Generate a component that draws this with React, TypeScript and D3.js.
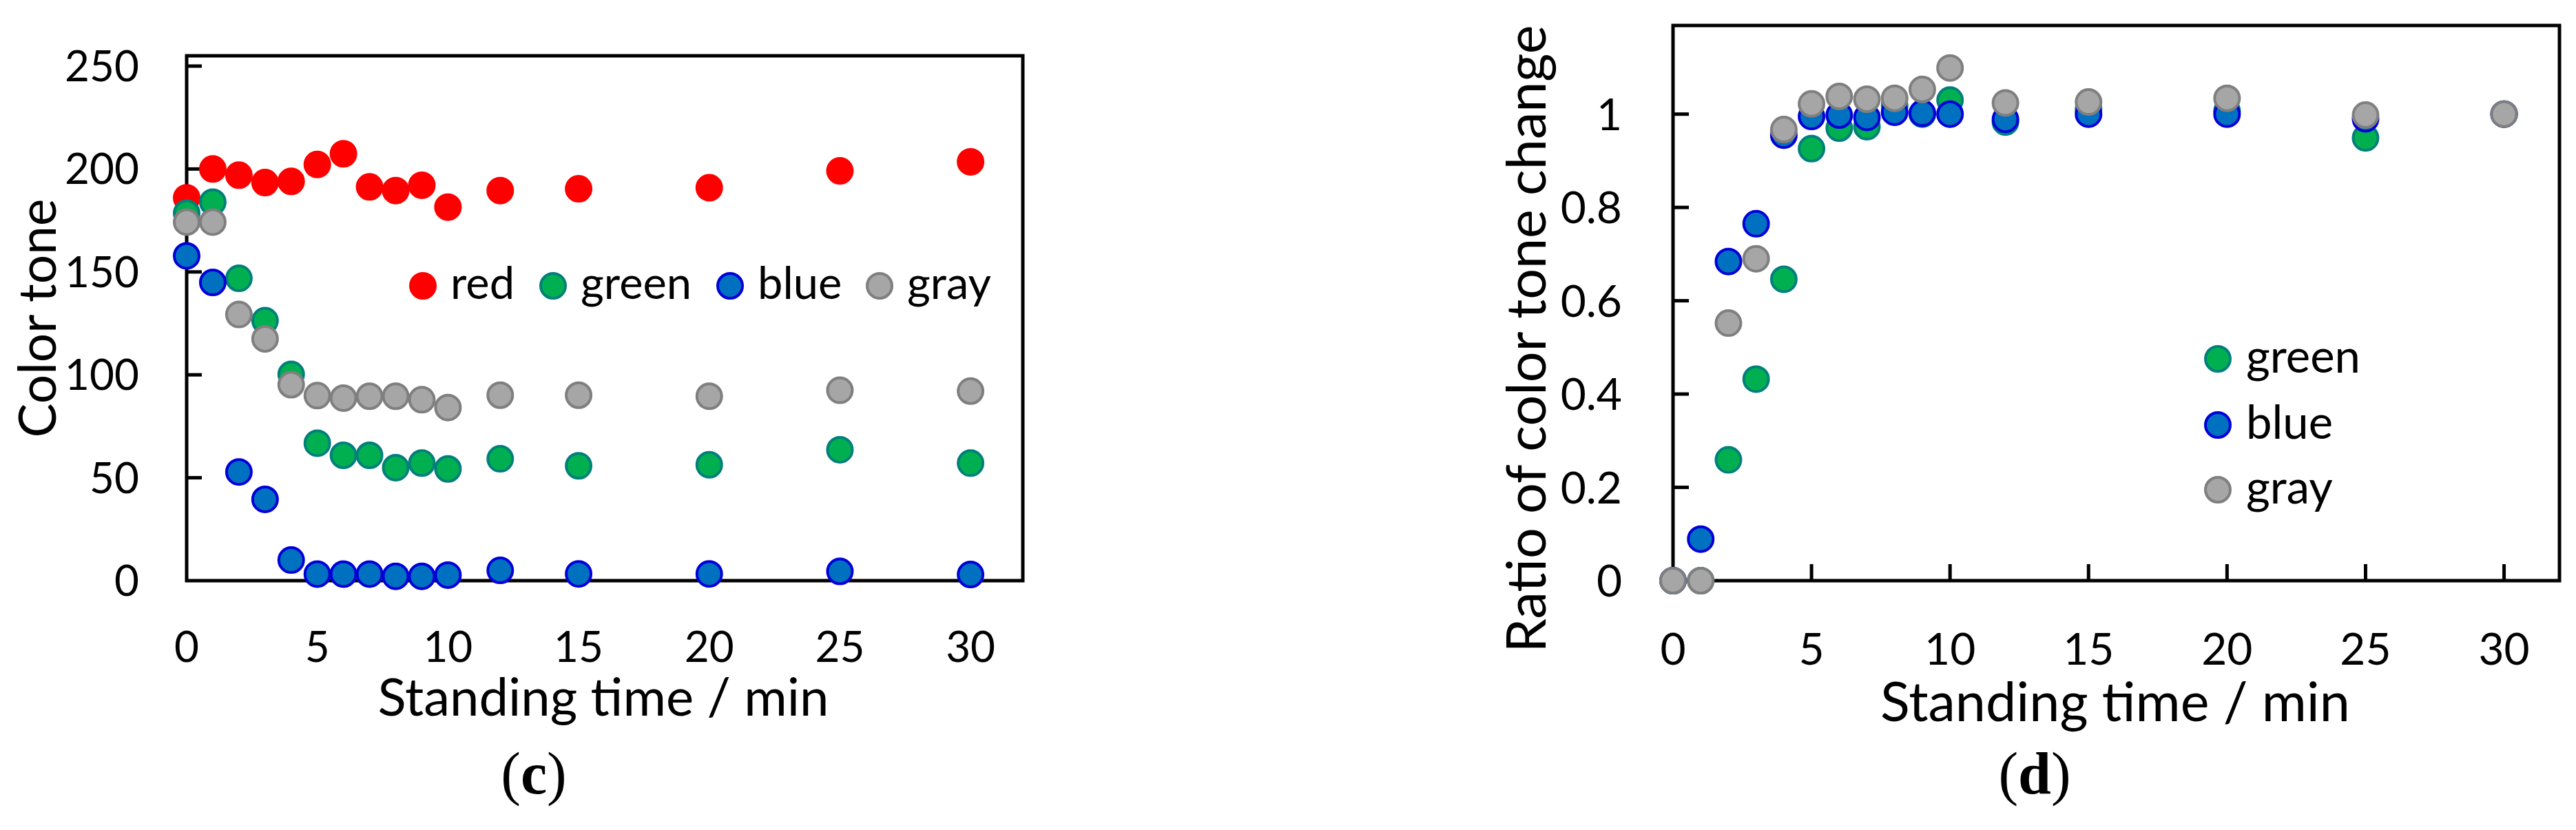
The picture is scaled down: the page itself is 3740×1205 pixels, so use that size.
import React from 'react';
import * as d3 from 'd3';

// ---------- data ----------
const times = [0, 1, 2, 3, 4, 5, 6, 7, 8, 9, 10, 12, 15, 20, 25, 30];

// panel (c): colour tone
const redTone = [186, 200, 197, 193.4, 194, 202.2, 207.4, 191.3, 189.5, 192.1, 181.5, 189.5, 190.4, 190.9, 199.1, 203.5];
const greenTone = [178.5, 183.9, 146.9, 126.3, 100.2, 66.8, 60.9, 60.9, 54.9, 57.1, 54.3, 59.2, 55.8, 56.3, 63.6, 57.1];
const blueTone = [157.8, 144.9, 52.8, 39.5, 10, 3.2, 3.2, 3.2, 2.1, 2.1, 2.7, 5, 3.3, 3.3, 4.5, 3];
const grayTone = [174.2, 174.2, 129.3, 117.5, 95.2, 89.9, 88.7, 89.6, 89.6, 87.9, 84.1, 90.1, 90.1, 89.6, 92.5, 92.1];

// panel (d): ratio of colour tone change
const greenRatio = [0, 0, 0.259, 0.432, 0.646, 0.926, 0.97, 0.973, 1.018, 1.0, 1.03, 0.983, 1.011, 1.007, 0.949, 1.0];
const blueRatio = [0, 0.089, 0.684, 0.765, 0.955, 0.995, 0.998, 0.993, 1.004, 1.002, 1.0, 0.989, 1.0, 1.0, 0.99, 1.0];
const grayRatio = [0, 0, 0.552, 0.69, 0.967, 1.022, 1.038, 1.032, 1.034, 1.053, 1.099, 1.024, 1.026, 1.034, 0.998, 1.0];

const xTicks = [0, 5, 10, 15, 20, 25, 30];
const yTicksC = [0, 50, 100, 150, 200, 250];
const yTicksD = [0, 0.2, 0.4, 0.6, 0.8, 1];

const seriesC = [
  { name: 'red', values: redTone },
  { name: 'green', values: greenTone },
  { name: 'blue', values: blueTone },
  { name: 'gray', values: grayTone },
];
const seriesD = [
  { name: 'green', values: greenRatio },
  { name: 'blue', values: blueRatio },
  { name: 'gray', values: grayRatio },
];

// ---------- styles / layout ----------
const W = 3740;
const H = 1205;
const FONT = "Lato, 'Open Sans', sans-serif";
const SERIF = "'Liberation Serif', 'DejaVu Serif', serif";

const STYLE: Record<string, { fill: string; stroke: string }> = {
  red: { fill: '#FF0000', stroke: '#FF0000' },
  green: { fill: '#00B050', stroke: '#00807A' },
  blue: { fill: '#0070C0', stroke: '#0000D8' },
  gray: { fill: '#A6A6A6', stroke: '#7F7F7F' },
};
const R = 18;
const SW = 4;

const xC = d3.scaleLinear().domain([0, 32]).range([271, 1485]);
const yC = d3.scaleLinear().domain([0, 255]).range([843, 81]);
const xD = d3.scaleLinear().domain([0, 32]).range([2429, 3716]);
const yD = d3.scaleLinear().domain([0, 1.19]).range([843, 37]);

const legendC = { y: 415, xs: [614, 803, 1060, 1277] };
const legendD = { x: 3220, ys: [521, 617, 711] };

function Marker({ cx, cy, name }: { cx: number; cy: number; name: string }) {
  const s = STYLE[name];
  return <circle cx={cx} cy={cy} r={R} fill={s.fill} stroke={s.stroke} strokeWidth={SW} />;
}

export default function App() {
  const tickLen = 22;
  return (
    <svg
      width={W}
      height={H}
      viewBox={`0 0 ${W} ${H}`}
      style={{ position: 'absolute', left: 0, top: 0, background: '#fff' }}
      fontFamily={FONT}
    >
      <rect x={0} y={0} width={W} height={H} fill="#fff" />

      {/* ===== panel (c) ===== */}
      <g>
        <rect
          x={xC(0)}
          y={yC(255)}
          width={xC(32) - xC(0)}
          height={yC(0) - yC(255)}
          fill="none"
          stroke="#000"
          strokeWidth={5}
        />
        {yTicksC.filter((t) => t > 0).map((t) => (
          <line key={t} x1={xC(0)} x2={xC(0) + tickLen} y1={yC(t)} y2={yC(t)} stroke="#000" strokeWidth={5} />
        ))}
        {yTicksC.map((t) => (
          <text key={t} x={202} y={yC(t) + 22} textAnchor="end" fontSize={62} fill="#000">
            {t}
          </text>
        ))}
        {xTicks.map((t) => (
          <text key={t} x={xC(t)} y={961} textAnchor="middle" fontSize={62} fill="#000">
            {t}
          </text>
        ))}
        <text x={876} y={1039} textAnchor="middle" fontSize={76} textLength={655} lengthAdjust="spacingAndGlyphs">
          Standing time / min
        </text>
        <text
          transform={`translate(81, ${(yC(0) + yC(255)) / 2}) rotate(-90)`}
          textAnchor="middle"
          fontSize={76}
          textLength={347}
          lengthAdjust="spacingAndGlyphs"
        >
          Color tone
        </text>

        {seriesC.map((s) => (
          <g key={s.name}>
            {s.values.map((v, i) => (
              <Marker key={i} cx={xC(times[i])} cy={yC(v)} name={s.name} />
            ))}
          </g>
        ))}

        {seriesC.map((s, i) => (
          <g key={s.name}>
            <Marker cx={legendC.xs[i]} cy={legendC.y} name={s.name} />
            <text x={legendC.xs[i] + 40} y={legendC.y + 19} fontSize={65} fill="#000">
              {s.name}
            </text>
          </g>
        ))}

        <text x={775} y={1152} textAnchor="middle" fontSize={86} fontFamily={SERIF}>
          (<tspan fontWeight="bold">c</tspan>)
        </text>
      </g>

      {/* ===== panel (d) ===== */}
      <g>
        <rect
          x={xD(0)}
          y={yD(1.19)}
          width={xD(32) - xD(0)}
          height={yD(0) - yD(1.19)}
          fill="none"
          stroke="#000"
          strokeWidth={5}
        />
        {yTicksD.filter((t) => t > 0).map((t) => (
          <line key={t} x1={xD(0)} x2={xD(0) + 23} y1={yD(t)} y2={yD(t)} stroke="#000" strokeWidth={5} />
        ))}
        {xTicks.filter((t) => t > 0).map((t) => (
          <line key={t} x1={xD(t)} x2={xD(t)} y1={yD(0)} y2={yD(0) - 24} stroke="#000" strokeWidth={5} />
        ))}
        {yTicksD.map((t) => (
          <text key={t} x={2355} y={yD(t) + 23} textAnchor="end" fontSize={64} fill="#000">
            {t}
          </text>
        ))}
        {xTicks.map((t) => (
          <text key={t} x={xD(t)} y={965} textAnchor="middle" fontSize={64} fill="#000">
            {t}
          </text>
        ))}
        <text x={3071} y={1047} textAnchor="middle" fontSize={79} textLength={682} lengthAdjust="spacingAndGlyphs">
          Standing time / min
        </text>
        <text
          transform={`translate(2244, 492) rotate(-90)`}
          textAnchor="middle"
          fontSize={79}
          textLength={911}
          lengthAdjust="spacingAndGlyphs"
        >
          Ratio of color tone change
        </text>

        {seriesD.map((s) => (
          <g key={s.name}>
            {s.values.map((v, i) => (
              <Marker key={i} cx={xD(times[i])} cy={yD(v)} name={s.name} />
            ))}
          </g>
        ))}

        {seriesD.map((s, i) => (
          <g key={s.name}>
            <Marker cx={legendD.x} cy={legendD.ys[i]} name={s.name} />
            <text x={legendD.x + 41} y={legendD.ys[i] + 20} fontSize={67} fill="#000">
              {s.name}
            </text>
          </g>
        ))}

        <text x={2954} y={1152} textAnchor="middle" fontSize={86} fontFamily={SERIF}>
          (<tspan fontWeight="bold">d</tspan>)
        </text>
      </g>
    </svg>
  );
}
